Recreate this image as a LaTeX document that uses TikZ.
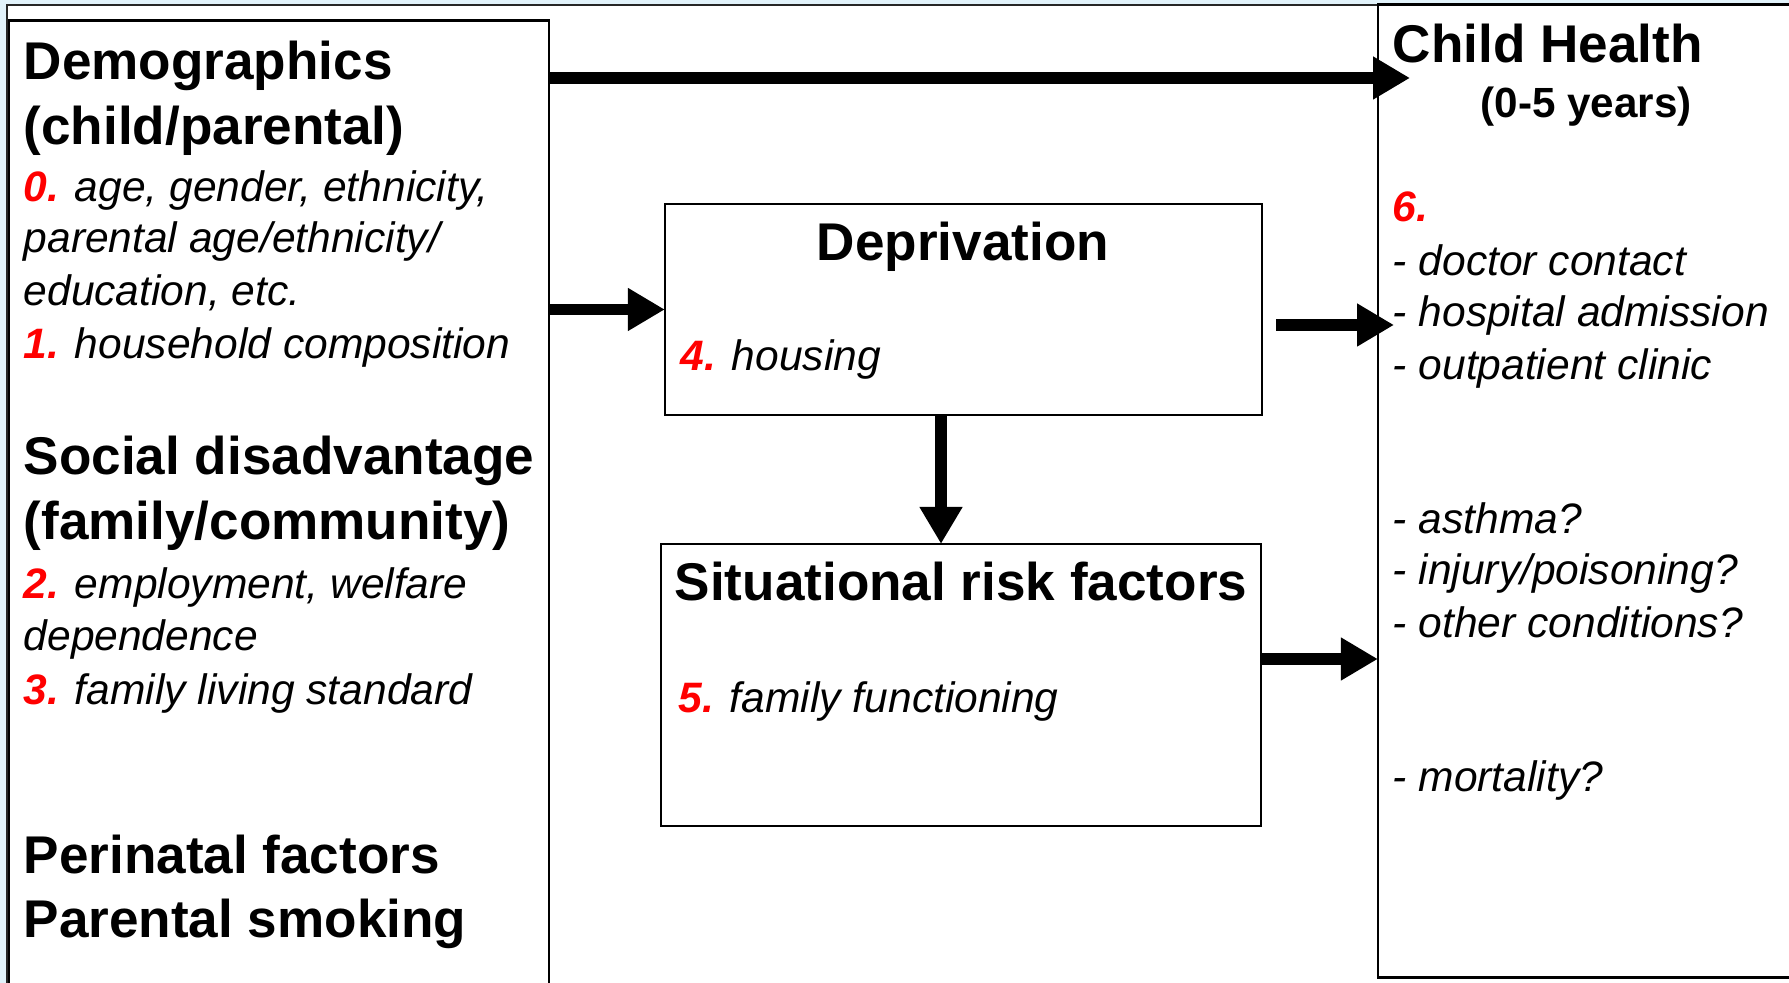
\documentclass[tikz,border=0pt]{standalone}
\usepackage{fontspec}
\setmainfont{Liberation Sans}
\usetikzlibrary{arrows.meta,positioning}
\definecolor{slideblue}{RGB}{225,242,250}
\definecolor{numred}{RGB}{255,0,0}
\newcommand{\itemnr}[1]{{\color{numred}\bfseries\itshape #1}}

\tikzset{
    box/.style={draw, line width=0.7pt, inner sep=0pt, outer sep=0pt, fill=white},
    headtxt/.style={font=\fontsize{15.1}{18}\selectfont\bfseries, inner sep=0pt, anchor=base west},
    itemtxt/.style={font=\fontsize{12.1}{15}\selectfont\itshape, inner sep=0pt, anchor=base west},
    bigarrow/.style={line width=3.4pt, -{Triangle[length=10.5pt,width=11.5pt]}}
}

\begin{document}
\begin{tikzpicture}[x=0.01cm, y=-0.01cm]
            \useasboundingbox (0,0) rectangle (1789,983);
            \clip (0,0) rectangle (1789,983);
            % slide background and frame
            \fill[slideblue] (0,0) rectangle (1789,983);
            \fill[white] (7,5) rectangle (1789,983);
            \draw[line width=0.6pt, black!85] (7,983) -- (7,5) -- (1789,5);

            % boxes
            \node[box, minimum width=5.4cm, minimum height=9.79cm] (demo) at (279,510.5) {};
            \node[box, minimum width=5.22cm, minimum height=9.72cm] (health) at (1639,491) {};
            \node[box, minimum width=5.97cm, minimum height=2.11cm] (depr) at (963.5,309.5) {};
            \node[box, minimum width=6.0cm, minimum height=2.82cm] (sit) at (961,685) {};

            % left column
            \node[headtxt] (demoA) at (23,80) {Demographics};
            \node[headtxt] (demoB) at (23,145) {(child/parental)};
            \node[itemtxt] (demo0) at (23,202) {\itemnr{0.} age, gender, ethnicity,};
            \node[itemtxt] (demo0b) at (23,253) {parental age/ethnicity/};
            \node[itemtxt] (demo0c) at (23,306) {education, etc.};
            \node[itemtxt] (demo1) at (23,359) {\itemnr{1.} household composition};
            \node[headtxt] (socA) at (23,475) {Social disadvantage};
            \node[headtxt] (socB) at (23,540) {(family/community)};
            \node[itemtxt] (soc2) at (23,599) {\itemnr{2.} employment, welfare};
            \node[itemtxt] (soc2b) at (23,650) {dependence};
            \node[itemtxt] (soc3) at (23,705) {\itemnr{3.} family living standard};
            \node[headtxt] (peri) at (23,873) {Perinatal factors};
            \node[headtxt] (smok) at (23,937) {Parental smoking};

            % middle boxes
            \node[headtxt, anchor=base] (deprT) at (963,261) {Deprivation};
            \node[itemtxt] (depr4) at (680,371) {\itemnr{4.} housing};
            \node[headtxt, anchor=base] (sitT) at (961,601) {Situational risk factors};
            \node[itemtxt] (sit5) at (678,712) {\itemnr{5.} family functioning};

            % outcomes
            \node[headtxt] (healthT) at (1392,63) {Child Health};
            \node[headtxt, font=\fontsize{12}{14}\selectfont\bfseries] (healthY) at (1480,118) {(0-5 years)};
            \node[itemtxt] (health6) at (1392,222) {\itemnr{6.}};
            \foreach \y/\txt [count=\i] in {276/doctor contact, 327/hospital admission, 380/outpatient clinic,
                                            534/asthma?, 585/{injury/poisoning?}, 637/other conditions?, 791/mortality?} {
                \node[itemtxt] (out\i) at (1392,\y) {- \txt};
            }

            % arrows
            \coordinate (toptip) at (1410,78);
            \coordinate (dstart) at (1276,325);
            \coordinate (dtip) at (1394,325);
            \coordinate (downx) at (941,0);
            \coordinate (sitrow) at (0,659);
            \draw[bigarrow] (demo.east |- toptip) -- (toptip);
            \draw[bigarrow] (demo.east |- depr.west) -- (depr.west);
            \draw[bigarrow] (dstart) -- (dtip);
            \draw[bigarrow] (depr.south -| downx) -- (sit.north -| downx);
            \draw[bigarrow] (sit.east |- sitrow) -- (health.west |- sitrow);
        \end{tikzpicture}
\end{document}
